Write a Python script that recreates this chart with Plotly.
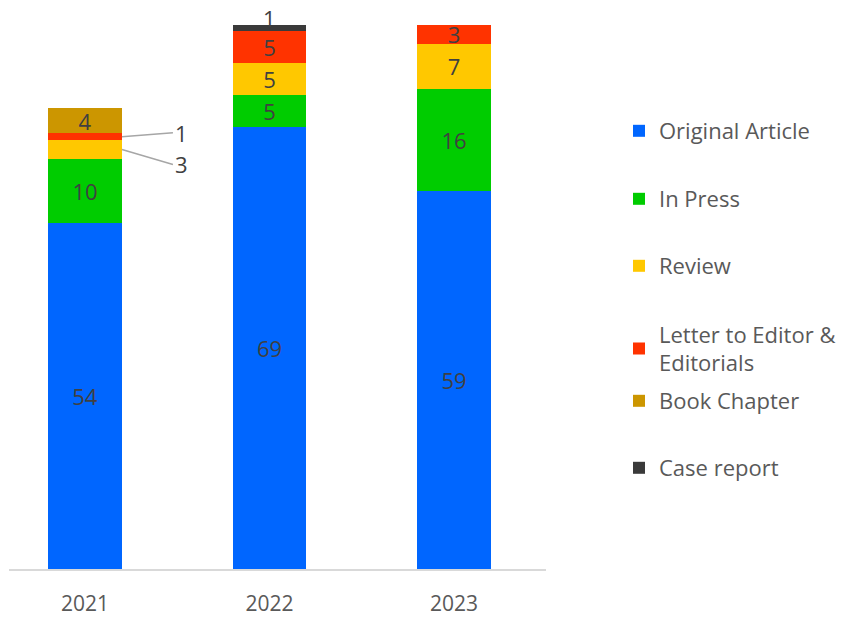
import plotly.graph_objects as go

years = ["2021", "2022", "2023"]
original_article = [54, 69, 59]
in_press = [10, 5, 16]
review = [3, 5, 7]
letter_editor = [1, 5, 3]
book_chapter = [4, 0, 0]
case_report = [0, 1, 0]

series_names = ["Original Article", "In Press", "Review",
                "Letter to Editor & Editorials", "Book Chapter", "Case report"]
legend_labels = ["Original Article", "In Press", "Review",
                 "Letter to Editor &<br>Editorials", "Book Chapter", "Case report"]
series_values = [original_article, in_press, review, letter_editor, book_chapter, case_report]
colors = ["#0066FF", "#00CC00", "#FFC800", "#FF3300", "#CC9600", "#3A3A3A"]

# labels shown outside the bar (callouts): (series index, year index, ax, ay)
callouts = [(3, 0, 51, -4), (2, 0, 51, 15)]
above_labels = [(5, 1)]

FONT = "Open Sans"
TXT = "#404040"
FS = 22

fig = go.Figure()
legend_y_px = [131, 199, 266, 349, 401, 468]
for i, (name, vals, col) in enumerate(zip(series_names, series_values, colors)):
    texts = []
    for j, v in enumerate(vals):
        outside = any(c[0] == i and c[1] == j for c in callouts) or (i, j) in above_labels
        texts.append(str(v) if v > 0 and not outside else "")
    lg = "legend" if i == 0 else f"legend{i+1}"
    fig.add_trace(go.Bar(
        x=years, y=vals, name=legend_labels[i], marker_color=col,
        marker_line_width=0, width=0.40,
        text=texts, textposition="inside", insidetextanchor="middle",
        constraintext="none", textangle=0,
        textfont=dict(family=FONT, size=FS, color=TXT),
        legend=lg, hoverinfo="skip",
    ))

def seg_mid(si, yi):
    base = sum(series_values[k][yi] for k in range(si))
    return base + series_values[si][yi] / 2

annotations = []
for si, yi, ax, ay in callouts:
    annotations.append(dict(
        x=yi + 0.2, y=seg_mid(si, yi), xref="x", yref="y",
        text=str(series_values[si][yi]), showarrow=True, arrowhead=0,
        arrowwidth=1.5, arrowcolor="#A6A6A6", ax=ax, ay=ay,
        xanchor="left", font=dict(family=FONT, size=FS, color=TXT),
    ))
for si, yi in above_labels:
    total = sum(series_values[k][yi] for k in range(len(series_values)))
    annotations.append(dict(
        x=yi, y=total, xref="x", yref="y", text=str(series_values[si][yi]),
        showarrow=False, yanchor="middle", yshift=7,
        font=dict(family=FONT, size=FS, color=TXT),
    ))

H_TOP, H_BOT = 10, 569
plot_h = H_BOT - H_TOP
legend_layouts = {}
for i, ypx in enumerate(legend_y_px):
    key = "legend" if i == 0 else f"legend{i+1}"
    legend_layouts[key] = dict(
        x=(619 - 9) / 537, xanchor="left",
        y=(569 - ypx) / plot_h, yanchor="middle",
        font=dict(family=FONT, size=FS, color="#595959"),
        bgcolor="rgba(0,0,0,0)", borderwidth=0,
    )

fig.update_layout(
    barmode="stack",
    width=846, height=617,
    margin=dict(l=9, r=300, t=H_TOP, b=617 - H_BOT, autoexpand=False),
    paper_bgcolor="white", plot_bgcolor="white",
    showlegend=True,
    annotations=annotations,
    xaxis=dict(
        type="category", range=[-0.412, 2.498], automargin=False,
        showline=True, linecolor="#D9D9D9", linewidth=1.5,
        showgrid=False, ticks="", ticklabelstandoff=15,
        tickfont=dict(family=FONT, size=21, color="#595959"),
    ),
    yaxis=dict(range=[0, plot_h / 6.405], visible=False, showgrid=False),
    **legend_layouts,
)

fig.write_html("out.html", config={"displayModeBar": False},
               post_script="document.body.style.margin='0px';document.body.style.overflow='hidden';")
